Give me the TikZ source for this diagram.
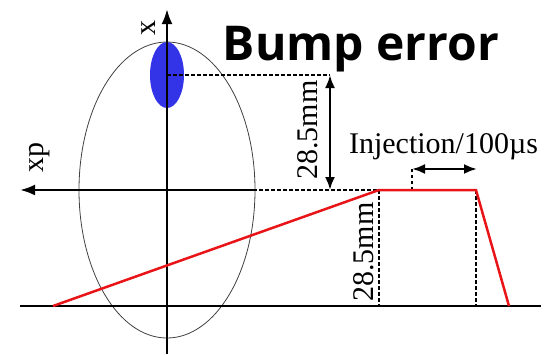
\documentclass[tikz,border=0pt]{standalone}
\usepackage{fontspec}
\setmainfont{Liberation Serif}
\newfontfamily\titlefont{Open Sans}
\usetikzlibrary{arrows.meta}
\definecolor{bumpblue}{RGB}{51,51,232}
\definecolor{curvered}{RGB}{232,20,24}
\begin{document}
\begin{tikzpicture}[x=1pt,y=-1pt,
  axis/.style={line width=2.6pt},
  dimdash/.style={line width=2.2pt, dash pattern=on 3.5pt off 2.5pt},
  dimarrow/.style={line width=2.4pt, {Latex[length=13pt,width=10pt]}-{Latex[length=13pt,width=10pt]}},
  axarrow/.style={line width=2.6pt, -{Latex[length=15pt,width=11pt]}},
  redline/.style={line width=2.5pt, curvered, line join=miter},
  lbl/.style={font=\fontsize{30}{30}\selectfont, inner sep=0pt},
]
\useasboundingbox (0,0) rectangle (546,354);

% coordinates
\coordinate (O) at (167,190);
\coordinate (top) at (167,9);
\coordinate (bot) at (167,354);
\coordinate (xpstart) at (253,190);
\coordinate (left) at (20,190);
\coordinate (B) at (167,75);
\coordinate (Bd) at (330,75);
\coordinate (Bm) at (330,190);
\coordinate (P1) at (53,306);
\coordinate (P2) at (379,190);
\coordinate (P3) at (476,190);
\coordinate (P4) at (509,306);
\coordinate (P2b) at (379,306);
\coordinate (P3b) at (476,306);
\coordinate (Ia) at (412,169);
\coordinate (Ib) at (477,169);
\coordinate (Ic) at (412,190);
\coordinate (baseL) at (20,306);
\coordinate (baseR) at (541,306);

% phase-space ellipse and bump
\draw[line width=0.8pt, black!75] (O) ellipse [x radius=88pt, y radius=148pt];
\fill[bumpblue] (B) ellipse [x radius=17pt, y radius=33pt];

% axes
\draw[axarrow] (bot) -- (top);
\draw[axarrow] (xpstart) -- (left);
\draw[axis] (baseL) -- (baseR);

% dashed guides
\draw[dimdash] (B) -- (Bd);
\draw[dimdash] (xpstart) -- (P2);
\draw[dimdash] (P2) -- (P2b);
\draw[dimdash] (P3) -- (P3b);
\draw[dimdash] (Ic) -- (Ia);

% dimension arrows
\draw[dimarrow] (Bd) -- (Bm);
\draw[dimarrow] (Ia) -- (Ib);

% red curve
\draw[redline] (P1) -- (P2) -- (P3) -- (P4);

% labels
\node[lbl, rotate=90] (lx) at (148.5,27.5) {x};
\node[lbl, rotate=90] (lxp) at (40,157) {xp};
\node[lbl, rotate=90] (d1) at (308,130) {28.5mm};
\node[lbl, rotate=90] (d2) at (364,252) {28.5mm};
\node[lbl, anchor=base] (inj) at (443.5,153) {Injection/100\textmu s};
\node[inner sep=0pt, anchor=base, font=\titlefont\bfseries\fontsize{48}{48}\selectfont] (title) at (361,60) {Bump error};
\end{tikzpicture}
\end{document}
